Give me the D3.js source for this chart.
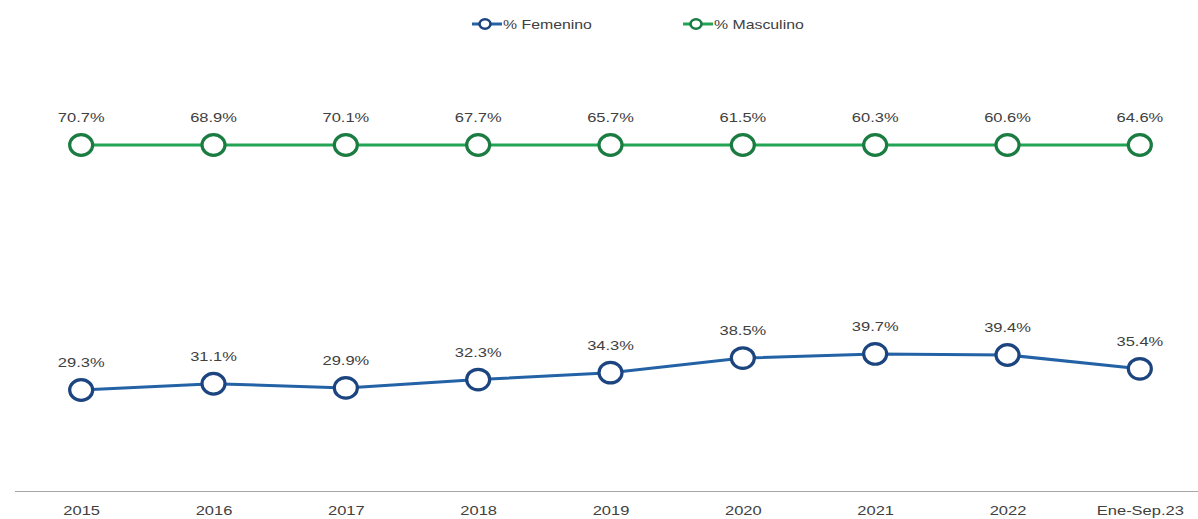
<!DOCTYPE html>
<html>
<head>
<meta charset="utf-8">
<script src="https://cdn.jsdelivr.net/npm/d3@7"></script>
<style>
  html, body { margin: 0; padding: 0; background: #fff; }
  svg { display: block; font-family: "Liberation Sans", Arial, sans-serif; }
</style>
</head>
<body>
<svg id="chart" width="1198" height="519"></svg>
<script>
// Periods on the x axis
const categories = ["2015", "2016", "2017", "2018", "2019", "2020", "2021", "2022", "Ene-Sep.23"];
// Share by sex (%), stacked so that both series add up to 100
const femenino  = [29.3, 31.1, 29.9, 32.3, 34.3, 38.5, 39.7, 39.4, 35.4];
const masculino = [70.7, 68.9, 70.1, 67.7, 65.7, 61.5, 60.3, 60.6, 64.6];
const seriesNames = ["% Femenino", "% Masculino"];

const colors = {
  "% Femenino":  { line: "#2462a6", stroke: "#1c4580" },
  "% Masculino": { line: "#22a455", stroke: "#1b7c42" }
};

const W = 1198, H = 519;
const SX = 1.32;          // horizontal stretch of the whole drawing
const svg = d3.select("#chart");

// Places a text at (x, y) widened horizontally around its anchor
function wideText(sel, x, y) {
  sel.attr("x", 0).attr("y", 0)
     .attr("transform", `translate(${x},${y}) scale(${SX},1)`);
}

const rows = categories.map((c, i) => ({
  cat: c, "% Femenino": femenino[i], "% Masculino": masculino[i]
}));
const stacked = d3.stack().keys(seriesNames)(rows);

const x = d3.scalePoint().domain(categories).range([15, 1206]).padding(0.5);
const y = d3.scaleLinear().domain([0, 100]).range([491.5, 145]);

// Category axis
const axis = svg.append("g")
  .attr("transform", `translate(0,${y(0)})`)
  .call(d3.axisBottom(x).tickSize(0));
axis.select(".domain").attr("stroke", "#a6a6a6").attr("stroke-width", 1.2)
  .attr("d", `M15,0H${W}`);
axis.selectAll("text")
  .attr("font-size", 12.5).attr("fill", "#404040")
  .attr("font-family", "Liberation Sans, Arial, sans-serif")
  .attr("dy", "0.71em")
  .each(function() { wideText(d3.select(this), 0, 15); });

// Series lines, markers and value labels
stacked.forEach(layer => {
  const name = layer.key;
  const col = colors[name];
  const pts = layer.map((d, i) => ({ x: x(categories[i]), y: y(d[1]), v: d.data[name] }));

  svg.append("path")
    .datum(pts)
    .attr("fill", "none")
    .attr("stroke", col.line)
    .attr("stroke-width", 3)
    .attr("d", d3.line().x(d => d.x).y(d => d.y));

  svg.append("g").selectAll("ellipse").data(pts).join("ellipse")
    .attr("cx", d => d.x).attr("cy", d => d.y).attr("rx", 11.5).attr("ry", 10.3)
    .attr("fill", "#fff").attr("stroke", col.stroke).attr("stroke-width", 3.2);

  svg.append("g").selectAll("text").data(pts).join("text")
    .attr("text-anchor", "middle").attr("font-size", 12.5).attr("fill", "#404040")
    .text(d => d.v.toFixed(1) + "%")
    .each(function(d) { wideText(d3.select(this), d.x, d.y - 23); });
});

// Legend
const legendX = [472, 683];
seriesNames.forEach((name, i) => {
  const col = colors[name];
  const g = svg.append("g").attr("transform", `translate(${legendX[i]},24)`);
  g.append("line").attr("x1", 0).attr("x2", 30).attr("y1", 0).attr("y2", 0)
    .attr("stroke", col.line).attr("stroke-width", 3);
  g.append("ellipse").attr("cx", 13).attr("cy", 0).attr("rx", 5.5).attr("ry", 4.8)
    .attr("fill", "#fff").attr("stroke", col.stroke).attr("stroke-width", 2.6);
  g.append("text").attr("font-size", 12).attr("fill", "#404040")
    .text(name)
    .each(function() { wideText(d3.select(this), 31, 4.5); });
});
</script>
</body>
</html>
